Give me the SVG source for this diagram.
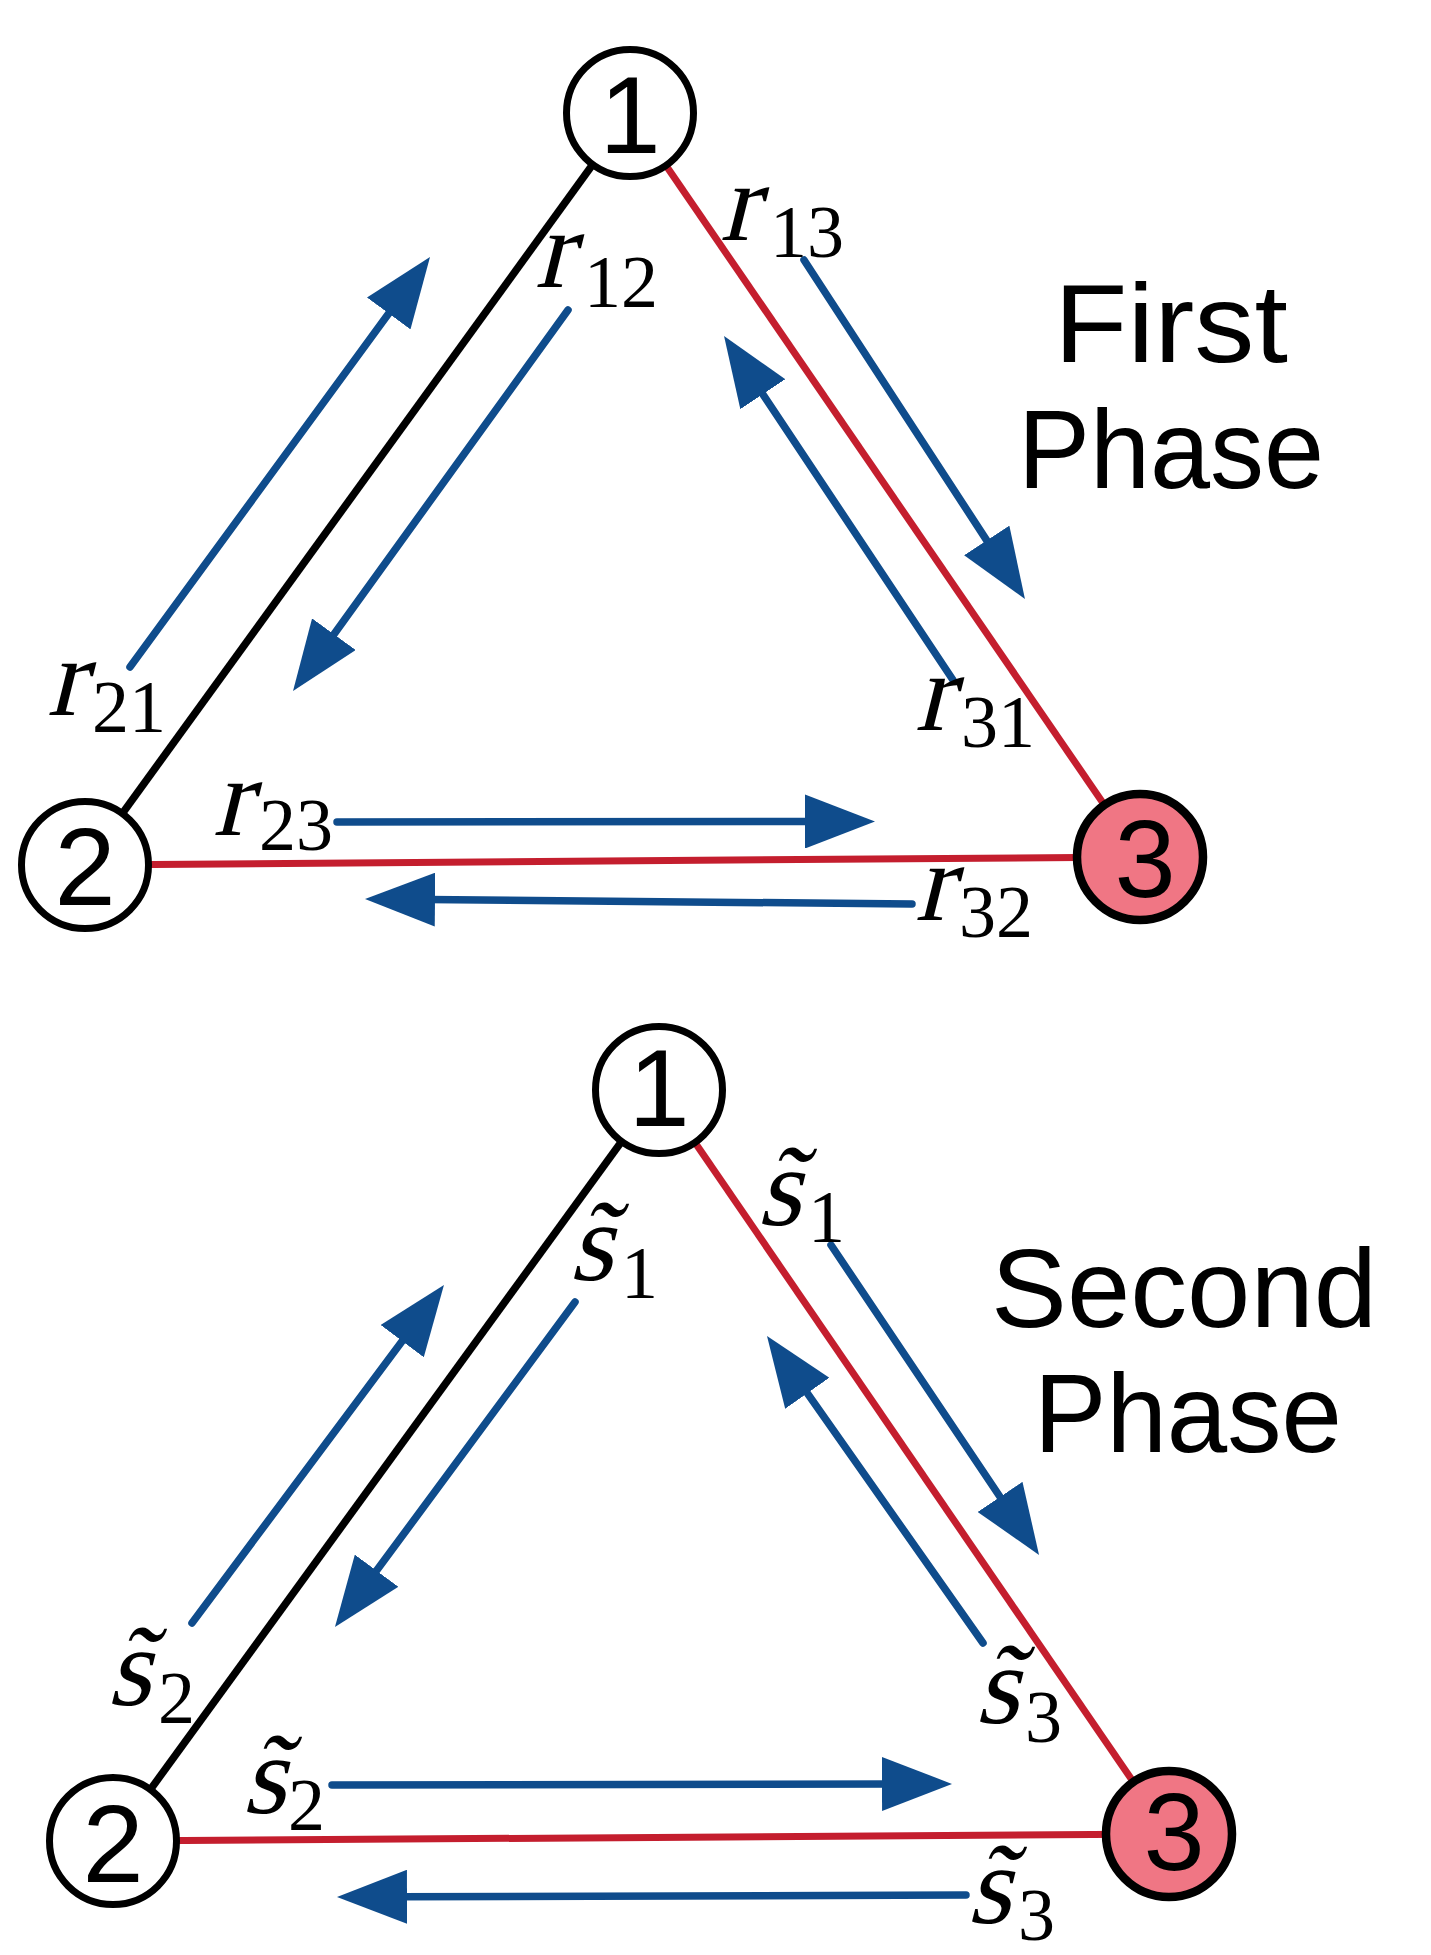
<svg xmlns="http://www.w3.org/2000/svg" width="1431" height="1955" viewBox="0 0 1431 1955">
<style>
.bg{fill:#ffffff}
.edge-k{stroke:#000000;stroke-width:7.5;fill:none}
.edge-r{stroke:#c41e2e;stroke-width:7;fill:none}
.flow{stroke:#0f4c8c;stroke-width:7.5;fill:none;stroke-linecap:round;marker-end:url(#ah)}
.node circle{fill:#ffffff;stroke:#000000;stroke-width:7}
.node.hot circle{fill:#f07684;stroke-width:8.5}
.num{font-family:"Liberation Sans",Roboto,Arial,sans-serif;font-size:110px;fill:#000;text-anchor:middle}
.mi{font-family:"Liberation Serif","Times New Roman",serif;font-size:112px;fill:#000}
.sub{font-family:"Liberation Serif","Times New Roman",serif;font-size:74px;fill:#000}
.title{font-family:"Liberation Sans",Arial,sans-serif;font-size:111px;fill:#000;text-anchor:middle}
</style>
<defs>
<marker id="ah" markerUnits="userSpaceOnUse" markerWidth="70" markerHeight="54" viewBox="0 0 70 54" refX="8" refY="27" orient="auto">
<path d="M0,0 L70,27 L0,54 Z" fill="#0f4c8c"/>
</marker>
</defs>
<rect class="bg" x="0" y="0" width="1431" height="1955"/>

<g id="connectors">
<line class="edge-k" x1="630" y1="113" x2="85" y2="865"/>
<line class="edge-r" x1="630" y1="113" x2="1140" y2="857"/>
<line class="edge-r" x1="85" y1="865" x2="1140" y2="857"/>
<line class="flow" x1="130" y1="667" x2="393.4" y2="307"/>
<line class="flow" x1="568" y1="310" x2="329.3" y2="640.7"/>
<line class="flow" x1="804" y1="260" x2="991.1" y2="547.1"/>
<line class="flow" x1="953" y1="680" x2="758.4" y2="387.6"/>
<line class="flow" x1="337" y1="822" x2="813" y2="821.5"/>
<line class="flow" x1="912" y1="904" x2="427" y2="899.5"/>
<line class="edge-k" x1="659" y1="1090" x2="113" y2="1841"/>
<line class="edge-r" x1="659" y1="1090" x2="1169" y2="1834"/>
<line class="edge-r" x1="113" y1="1841" x2="1169" y2="1834"/>
<line class="flow" x1="192" y1="1623" x2="406.9" y2="1334.7"/>
<line class="flow" x1="575" y1="1302" x2="371.8" y2="1577.1"/>
<line class="flow" x1="831" y1="1245" x2="1004.5" y2="1503.5"/>
<line class="flow" x1="983" y1="1643" x2="802.7" y2="1386.7"/>
<line class="flow" x1="332" y1="1785" x2="890" y2="1784"/>
<line class="flow" x1="966" y1="1895" x2="399" y2="1896.8"/>
</g>

<g id="top-node-1" class="node"><circle cx="630" cy="113" r="63.5"/><text class="num" x="630" y="153">1</text></g>
<g id="top-node-2" class="node"><circle cx="85" cy="865" r="63.5"/><text class="num" x="85" y="905">2</text></g>
<g id="top-node-3" class="node hot"><circle cx="1140" cy="857" r="63"/><text class="num" x="1145" y="897">3</text></g>

<g id="bottom-node-1" class="node"><circle cx="659" cy="1090" r="63.5"/><text class="num" x="659" y="1126">1</text></g>
<g id="bottom-node-2" class="node"><circle cx="113" cy="1841" r="63.5"/><text class="num" x="113" y="1882">2</text></g>
<g id="bottom-node-3" class="node hot"><circle cx="1169" cy="1834" r="63"/><text class="num" x="1174" y="1870">3</text></g>

<g id="top-labels">
<g transform="translate(535,287) skewX(-14)"><text class="mi" x="0" y="0">r</text></g><text class="sub" x="584" y="307">12</text>
<g transform="translate(720,240) skewX(-14)"><text class="mi" x="0" y="0">r</text></g><text class="sub" x="770" y="257">13</text>
<g transform="translate(47,715) skewX(-14)"><text class="mi" x="0" y="0">r</text></g><text class="sub" x="92" y="732">21</text>
<g transform="translate(915,730) skewX(-14)"><text class="mi" x="0" y="0">r</text></g><text class="sub" x="961" y="747">31</text>
<g transform="translate(213,835) skewX(-14)"><text class="mi" x="0" y="0">r</text></g><text class="sub" x="259" y="850">23</text>
<g transform="translate(915,920) skewX(-14)"><text class="mi" x="0" y="0">r</text></g><text class="sub" x="959" y="937">32</text>
</g>

<g id="bottom-labels">
<g transform="translate(569,1280) skewX(-14)"><text class="mi" x="0" y="0">s̃</text></g><text class="sub" x="621" y="1298">1</text>
<g transform="translate(757,1225) skewX(-14)"><text class="mi" x="0" y="0">s̃</text></g><text class="sub" x="808" y="1242">1</text>
<g transform="translate(107,1705) skewX(-14)"><text class="mi" x="0" y="0">s̃</text></g><text class="sub" x="158" y="1723">2</text>
<g transform="translate(242,1813) skewX(-14)"><text class="mi" x="0" y="0">s̃</text></g><text class="sub" x="288" y="1830">2</text>
<g transform="translate(975,1723) skewX(-14)"><text class="mi" x="0" y="0">s̃</text></g><text class="sub" x="1025" y="1742">3</text>
<g transform="translate(967,1923) skewX(-14)"><text class="mi" x="0" y="0">s̃</text></g><text class="sub" x="1018" y="1940">3</text>
</g>

<g id="titles">
<text class="title" x="1171" y="362" textLength="234" lengthAdjust="spacingAndGlyphs">First</text>
<text class="title" x="1171" y="488" textLength="306" lengthAdjust="spacingAndGlyphs">Phase</text>
<text class="title" x="1184" y="1327" textLength="386" lengthAdjust="spacingAndGlyphs">Second</text>
<text class="title" x="1188" y="1452" textLength="308" lengthAdjust="spacingAndGlyphs">Phase</text>
</g>
</svg>
